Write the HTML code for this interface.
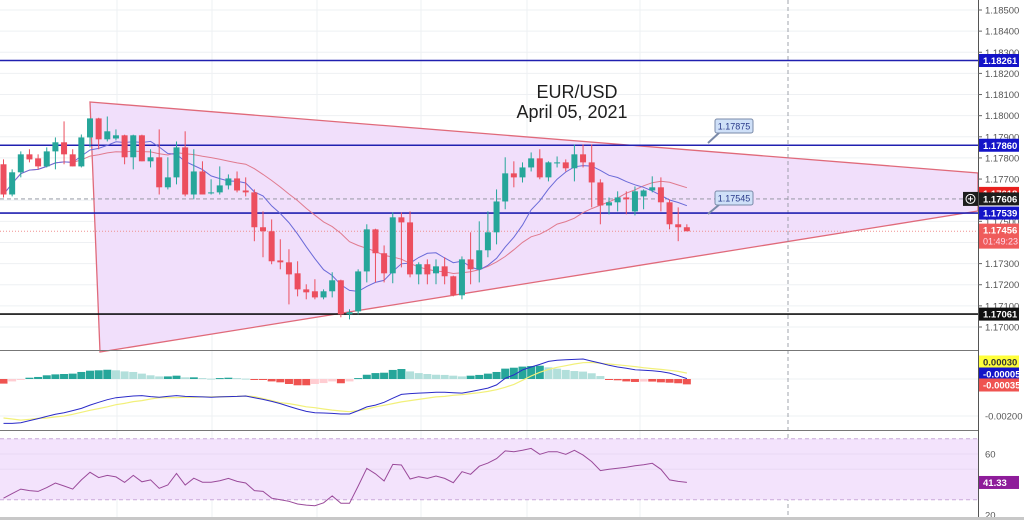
<!DOCTYPE html>
<html><head><meta charset="utf-8"><style>
html,body{margin:0;padding:0;background:#fff;}
svg{display:block;font-family:"Liberation Sans",sans-serif;}
</style></head><body>
<svg id="chart" width="1024" height="520" viewBox="0 0 1024 520" xmlns="http://www.w3.org/2000/svg"></svg>
<script>
const opens=[1.17770,1.17627,1.17732,1.17817,1.17798,1.17760,1.17831,1.17874,1.17817,1.17760,1.17897,1.17987,1.17888,1.17892,1.17907,1.17803,1.17907,1.17784,1.17803,1.17661,1.17708,1.17850,1.17627,1.17736,1.17632,1.17637,1.17670,1.17703,1.17646,1.17637,1.17472,1.17453,1.17315,1.17306,1.17254,1.17178,1.17169,1.17140,1.17169,1.17221,1.17060,1.17074,1.17263,1.17462,1.17349,1.17254,1.17519,1.17495,1.17249,1.17297,1.17254,1.17287,1.17240,1.17150,1.17320,1.17273,1.17363,1.17448,1.17594,1.17727,1.17708,1.17755,1.17798,1.17708,1.17774,1.17779,1.17751,1.17817,1.17779,1.17684,1.17575,1.17590,1.17613,1.17547,1.17618,1.17646,1.17661,1.17590,1.17486,1.17472];
const highs=[1.17793,1.17746,1.17831,1.17841,1.17817,1.17850,1.17897,1.17973,1.17841,1.17911,1.17987,1.17990,1.17996,1.17935,1.17910,1.17910,1.17910,1.17841,1.17935,1.17803,1.17878,1.17926,1.17841,1.17784,1.17699,1.17760,1.17722,1.17736,1.17708,1.17651,1.17547,1.17509,1.17415,1.17368,1.17311,1.17202,1.17226,1.17178,1.17259,1.17224,1.17084,1.17273,1.17486,1.17465,1.17386,1.17542,1.17542,1.17547,1.17306,1.17320,1.17320,1.17330,1.17243,1.17334,1.17448,1.17500,1.17547,1.17651,1.17803,1.17784,1.17779,1.17826,1.17841,1.17784,1.17807,1.17793,1.17864,1.17864,1.17864,1.17699,1.17613,1.17642,1.17642,1.17665,1.17651,1.17713,1.17708,1.17604,1.17566,1.17486];
const lows=[1.17613,1.17618,1.17708,1.17779,1.17746,1.17755,1.17746,1.17770,1.17760,1.17755,1.17850,1.17841,1.17878,1.17883,1.17770,1.17746,1.17784,1.17755,1.17627,1.17651,1.17675,1.17618,1.17604,1.17627,1.17627,1.17627,1.17651,1.17637,1.17618,1.17406,1.17330,1.17297,1.17273,1.17107,1.17145,1.17131,1.17131,1.17131,1.17140,1.17046,1.17036,1.17060,1.17211,1.17211,1.17211,1.17207,1.17282,1.17235,1.17202,1.17202,1.17202,1.17202,1.17145,1.17131,1.17202,1.17211,1.17330,1.17391,1.17557,1.17661,1.17684,1.17736,1.17699,1.17689,1.17755,1.17736,1.17689,1.17755,1.17566,1.17486,1.17533,1.17547,1.17533,1.17528,1.17557,1.17637,1.17547,1.17462,1.17406,1.17453];
const closes=[1.17627,1.17732,1.17817,1.17793,1.17760,1.17831,1.17874,1.17817,1.17760,1.17897,1.17987,1.17888,1.17926,1.17907,1.17803,1.17907,1.17784,1.17803,1.17661,1.17708,1.17850,1.17627,1.17736,1.17627,1.17637,1.17670,1.17703,1.17646,1.17637,1.17472,1.17453,1.17311,1.17306,1.17249,1.17178,1.17164,1.17140,1.17169,1.17221,1.17060,1.17070,1.17263,1.17462,1.17349,1.17254,1.17519,1.17495,1.17249,1.17297,1.17249,1.17287,1.17240,1.17150,1.17320,1.17273,1.17363,1.17448,1.17594,1.17727,1.17708,1.17755,1.17798,1.17708,1.17779,1.17779,1.17751,1.17817,1.17779,1.17684,1.17575,1.17590,1.17613,1.17604,1.17642,1.17646,1.17661,1.17590,1.17486,1.17472,1.17453];
// MACD values in units of 1e-5
const macdLine=[-240,-240,-236,-225,-214,-202,-191,-182,-171,-159,-141,-126,-112,-101,-97,-92,-90,-95,-99,-94,-90,-94,-95,-97,-99,-97,-95,-94,-92,-101,-110,-121,-133,-148,-162,-175,-182,-184,-186,-189,-189,-171,-151,-141,-126,-104,-83,-79,-76,-74,-72,-72,-74,-76,-68,-59,-49,-32,4,22,49,65,79,95,101,104,106,108,97,86,74,65,58,50,47,45,40,32,18,2];
const signalLine=[-211,-216,-222,-218,-213,-211,-205,-200,-191,-180,-169,-160,-150,-139,-132,-122,-117,-108,-101,-101,-101,-99,-99,-97,-97,-95,-95,-94,-92,-95,-106,-117,-128,-133,-141,-150,-155,-162,-168,-173,-177,-171,-162,-151,-142,-133,-124,-117,-110,-103,-97,-94,-88,-85,-79,-74,-67,-58,-45,-29,-7,16,36,52,63,72,81,88,90,85,81,77,72,67,61,56,52,47,41,32];
const histValues=[-25,-13,-2,7,11,20,25,27,29,38,45,47,50,47,41,38,29,20,14,14,18,9,9,5,2,5,7,5,2,-2,-5,-13,-18,-27,-34,-34,-27,-22,-13,-23,-13,5,23,32,34,49,54,41,32,27,23,22,18,14,18,22,29,38,56,61,67,70,72,63,56,49,43,40,31,16,-2,-7,-13,-16,-14,-14,-18,-20,-23,-29];
const rsiValues=[31,34,37,36,35.5,38,41,39,37,43,48,44.5,46,45,41.4,46,41.8,43,37.5,39.7,47.3,39.7,44.1,41.5,41.5,42.5,44,42,41,36,35.5,31,30,29,27.2,26.5,26.1,28,32.5,27.7,27.7,39,50.6,47,42.3,53.2,52.8,43.6,45.1,44,45.6,44,41.2,48.4,46.7,52,54,57,62,61.5,62.5,63.7,59.8,61.5,61.5,59.8,62.4,59.3,55,49.1,50,50.6,51.3,52.3,53,53.9,50,43,42,41.4];
const priceTicks=[1.185,1.184,1.183,1.182,1.181,1.180,1.179,1.178,1.177,1.176,1.175,1.174,1.173,1.172,1.171,1.170];
const priceTickLabels=["1.18500","1.18400","1.18300","1.18200","1.18100","1.18000","1.17900","1.17800","1.17700","","1.17500","","1.17300","1.17200","1.17100","1.17000"];
const hLevels=[1.18261,1.17860,1.17539];
const supportLevel=1.17061;

const svg=document.getElementById('chart');
const NS='http://www.w3.org/2000/svg';
function mk(tag,attrs,parent){const e=document.createElementNS(NS,tag);for(const k in attrs)e.setAttribute(k,attrs[k]);(parent||svg).appendChild(e);return e;}
const xOf=i=>3.5+8.65*i;
const yP=p=>10+(1.185-p)*21133;
const yM=v=>379-v*0.185;
const yR=v=>454-(v-60)*1.525;
const AX=978;

// grid
const grid=mk('g',{});


priceTicks.forEach(p=>mk('line',{x1:0,x2:AX,y1:yP(p),y2:yP(p),stroke:'#eef0f3','stroke-width':1},grid));
[117,212,317,421,527,640].forEach(x=>mk('line',{x1:x,x2:x,y1:0,y2:517,stroke:'#eef0f3','stroke-width':1},grid));
mk('line',{x1:0,x2:AX,y1:yM(0),y2:yM(0),stroke:'#eef0f3'},grid);
mk('line',{x1:0,x2:AX,y1:yM(-200),y2:yM(-200),stroke:'#eef0f3'},grid);

// triangle
const tri=mk('polygon',{points:'90,102 978,173 978,211 100,352',fill:'#f1dffb',stroke:'#e06a7a','stroke-width':1.3});



// crosshair vertical
const vx=mk('line',{x1:788,x2:788,y1:0,y2:517,stroke:'#8a8f99','stroke-dasharray':'4,3','stroke-width':0.8});


const hx=mk('line',{x1:0,x2:AX,y1:yP(1.17606),y2:yP(1.17606),stroke:'#8a8f99','stroke-dasharray':'4,3','stroke-width':0.8});


const lp=mk('line',{x1:0,x2:AX,y1:yP(closes[closes.length-1]),y2:yP(closes[closes.length-1]),stroke:'#f09090','stroke-dasharray':'1,2','stroke-width':1});



// horizontal levels
hLevels.forEach(p=>{const l=mk('line',{x1:0,x2:AX,y1:yP(p),y2:yP(p),stroke:'#2020b0','stroke-width':1.6});

});
const sl=mk('line',{x1:0,x2:AX,y1:yP(supportLevel),y2:yP(supportLevel),stroke:'#111','stroke-width':1.6});



// moving averages
function sma(n){return closes.map((c,i)=>{const s=Math.max(0,i-n+1);let t=0;for(let k=s;k<=i;k++)t+=closes[k];return t/(i-s+1);});}
function pathOf(vals,fy){return vals.map((v,i)=>(i?'L':'M')+xOf(i).toFixed(1)+','+fy(v).toFixed(1)).join('');}
const ma1=mk('path',{d:pathOf(sma(20),yP),fill:'none',stroke:'#e07a8e','stroke-width':1});


const ma2=mk('path',{d:pathOf(sma(9),yP),fill:'none',stroke:'#6a6ad8','stroke-width':1});



// candles
const cg=mk('g',{});


closes.forEach((c,i)=>{
 const o=opens[i],up=c>=o,col=up?'#26a69a':'#ec4e5e',x=xOf(i);
 const w=mk('line',{x1:x,x2:x,y1:yP(highs[i]),y2:yP(lows[i]),stroke:col,'stroke-width':1},cg);
 
 
 const top=yP(Math.max(o,c)),bot=yP(Math.min(o,c));
 const b=mk('rect',{x:x-3,y:top,width:6,height:Math.max(1,bot-top),fill:col},cg);
 
 
});

// title
const t1=mk('text',{x:577,y:98,'font-size':18,fill:'#1e1e1e','text-anchor':'middle'});t1.textContent='EUR/USD';


const t2=mk('text',{x:572,y:118,'font-size':18,fill:'#1e1e1e','text-anchor':'middle'});t2.textContent='April 05, 2021';



// callouts
[[1.17875,119,143],[1.17545,191,214]].forEach(([v,by,py])=>{
 const g=mk('g',{});
 
 
 mk('line',{x1:708,y1:py,x2:720,y2:by+13,stroke:'#7a8aa8','stroke-width':2},g);
 mk('rect',{x:715,y:by,width:38,height:14,rx:2,fill:'#cfe0f8',stroke:'#7a8aa8','stroke-width':1},g);
 const t=mk('text',{x:734,y:by+10.5,'font-size':9,fill:'#2a3a8a','text-anchor':'middle'},g);t.textContent=v.toFixed(5);
});

// pane separators
[350.5,430.5].forEach(y=>{const s=mk('line',{x1:0,x2:1024,y1:y,y2:y,stroke:'#777','stroke-width':1});

});

// MACD
const mg=mk('g',{});


histValues.forEach((v,i)=>{
 const prev=i?histValues[i-1]:v;
 const col=v>=0?(v>=prev?'#26a69a':'#b2dfdb'):(v<=prev?'#ef5350':'#ffcdd2');
 const y0=yM(0),y1=yM(v);
 const r=mk('rect',{x:xOf(i)-4,y:Math.min(y0,y1),width:8,height:Math.max(1,Math.abs(y1-y0)),fill:col},mg);
 
 
});
const sg=mk('path',{d:pathOf(signalLine,yM),fill:'none',stroke:'#f2f07a','stroke-width':1.2},mg);


const ml=mk('path',{d:pathOf(macdLine,yM),fill:'none',stroke:'#2b2bc8','stroke-width':1},mg);



// RSI
const rg=mk('g',{});


mk('rect',{x:0,y:yR(70),width:AX,height:yR(30)-yR(70),fill:'#f3e3fc'},rg);
[70,30].forEach(v=>mk('line',{x1:0,x2:AX,y1:yR(v),y2:yR(v),stroke:'#c9a9d9','stroke-dasharray':'4,3'},rg));
mk('line',{x1:0,x2:AX,y1:yR(50),y2:yR(50),stroke:'#e9d9f3'},rg);
mk('line',{x1:0,x2:AX,y1:yR(60),y2:yR(60),stroke:'#e9d9f3'},rg);
const rl=mk('path',{d:pathOf(rsiValues,yR),fill:'none',stroke:'#9a4a9a','stroke-width':1},rg);



// right axis
const ax=mk('g',{});


mk('rect',{x:AX,y:0,width:46,height:520,fill:'#fff'},ax);
mk('line',{x1:AX+0.5,x2:AX+0.5,y1:0,y2:520,stroke:'#555'},ax);
priceTicks.forEach((p,i)=>{if(!priceTickLabels[i])return;
 mk('line',{x1:AX,x2:AX+4,y1:yP(p),y2:yP(p),stroke:'#666'},ax);
 const t=mk('text',{x:AX+7,y:yP(p)+3.5,'font-size':9.5,fill:'#555'},ax);t.textContent=priceTickLabels[i];});
function badge(y,txt,bg,fg,name){const g=mk('g',{},ax);
 
 
 mk('rect',{x:AX+1,y:y-6.5,width:40,height:13,fill:bg},g);
 const t=mk('text',{x:AX+5,y:y+3.5,'font-size':9.5,fill:fg,'font-weight':'bold'},g);t.textContent=txt;}
badge(yP(1.18261),'1.18261','#1414c8','#fff','level-badge');
badge(yP(1.17860),'1.17860','#1414c8','#fff','level-badge');
badge(yP(1.17618)-3,'1.17618','#e8201e','#fff','high-badge');
badge(yP(1.17606),'1.17606','#1d1d1d','#fff','crosshair-price-badge');
badge(yP(1.17539),'1.17539','#1414c8','#fff','level-badge');
badge(yP(1.17061),'1.17061','#111','#fff','support-badge');
{const g=mk('g',{},ax);
 
 
 mk('rect',{x:AX+1,y:yP(1.17456)-7,width:40,height:25,fill:'#ef5b5b'},g);
 const a=mk('text',{x:AX+5,y:yP(1.17456)+3,'font-size':9.5,fill:'#fff','font-weight':'bold'},g);a.textContent='1.17456';
 const b=mk('text',{x:AX+5,y:yP(1.17456)+14,'font-size':9,fill:'#fde'},g);b.textContent='01:49:23';}
{const g=mk('g',{});
 
 
 mk('rect',{x:963,y:yP(1.17606)-7,width:15,height:14,fill:'#1d1d1d'},g);
 mk('circle',{cx:970.5,cy:yP(1.17606),r:4.5,fill:'none',stroke:'#fff'},g);
 mk('path',{d:`M968,${yP(1.17606)}h5M970.5,${yP(1.17606)-2.5}v5`,stroke:'#fff'},g);}
badge(362,'0.00030','#ffff3a','#333','macd-signal-badge');
badge(374,'-0.00005','#1414c8','#fff','macd-value-badge');
badge(385,'-0.00035','#ef5350','#fff','macd-hist-badge');
{const t=mk('text',{x:AX+7,y:yM(-200)+3.5,'font-size':9.5,fill:'#555'},ax);t.textContent='-0.00200';}
{const t=mk('text',{x:AX+7,y:yR(60)+3.5,'font-size':9.5,fill:'#555'},ax);t.textContent='60';}
{const t=mk('text',{x:AX+7,y:yR(20)+3.5,'font-size':9.5,fill:'#555'},ax);t.textContent='20';}
badge(yR(41.33),'41.33','#8e1c9a','#fff','rsi-value-badge');
const ta=mk('rect',{x:0,y:517,width:1024,height:3,fill:'#c8c8c8'});


</script>
</body></html>
